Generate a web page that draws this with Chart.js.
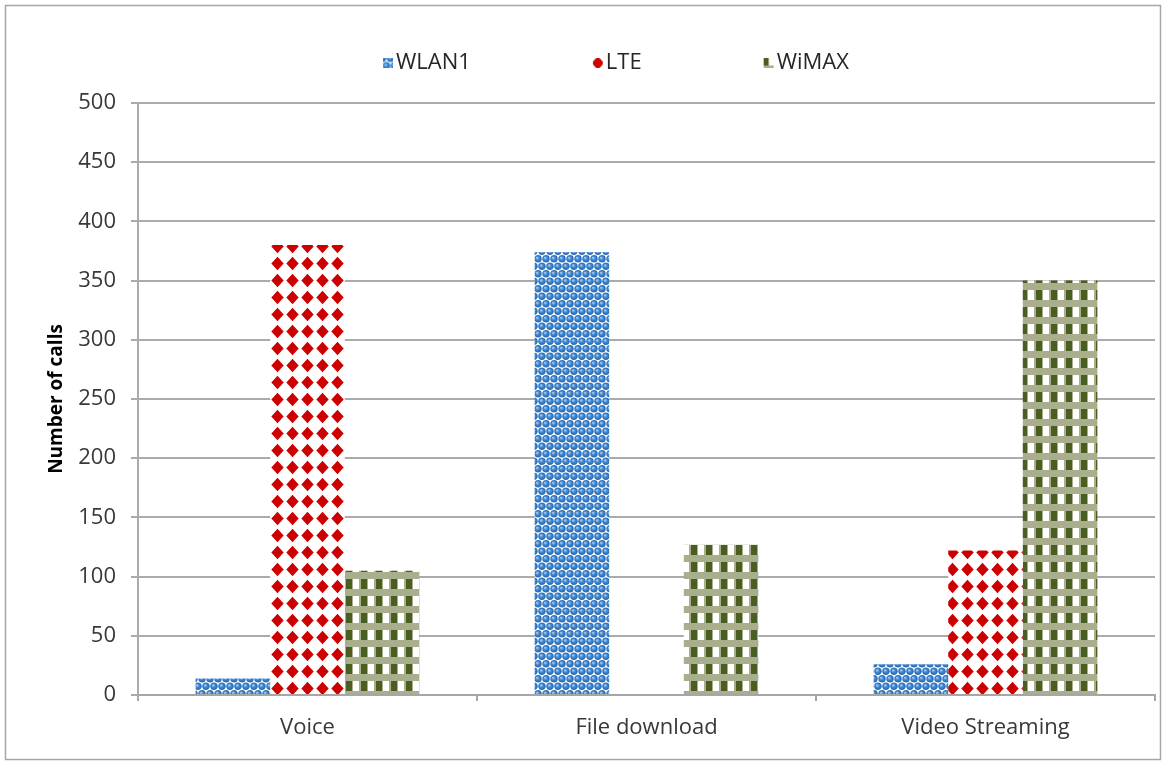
<!DOCTYPE html>
<html>
<head>
<meta charset="utf-8">
<script src="https://cdn.jsdelivr.net/npm/chart.js@4.4.1/dist/chart.umd.min.js"></script>
<style>
  html, body { margin: 0; padding: 0; background: #fff; }
  #wrap { width: 1167px; height: 765px; position: relative; }
</style>
</head>
<body>
<div id="wrap"><canvas id="callsChart" width="1167" height="765"></canvas></div>
<script>
// data
const categories = ['Voice', 'File download', 'Video Streaming'];
const wlan1Calls = [14, 374, 26];
const lteCalls = [380, 0, 122];
const wimaxCalls = [105, 127, 350];
const yTicks = [0, 50, 100, 150, 200, 250, 300, 350, 400, 450, 500];

// --- fill patterns for the bars ---
const makeTile = (w, h, draw) => {
    const c = document.createElement('canvas');
    c.width = w; c.height = h;
    const g = c.getContext('2d');
    g.fillStyle = '#fff';
    g.fillRect(0, 0, w, h);
    draw(g);
    return document.createElement('canvas').getContext('2d').createPattern(c, 'repeat');
};

// blue spheres, hex packed
const dotPattern = makeTile(8, 15, g => {
    const ball = (x, y) => {
        const grd = g.createRadialGradient(x - 1, y - 1, 0.3, x, y, 4);
        grd.addColorStop(0, '#a5d0f5');
        grd.addColorStop(0.4, '#3f8ad6');
        grd.addColorStop(1, '#2260a8');
        g.fillStyle = grd;
        g.beginPath(); g.arc(x, y, 3.7, 0, Math.PI * 2); g.fill();
    };
    [[2, 3.75], [10, 3.75], [6, 11.25], [-2, 11.25], [2, 18.75], [10, 18.75], [6, -3.75], [-2, -3.75]]
        .forEach(p => ball(p[0], p[1]));
});

// red diamonds on white
const diamondPattern = makeTile(15, 17, g => {
    g.fillStyle = '#cc0000';
    g.beginPath();
    g.moveTo(7.5, 1.8); g.lineTo(13.7, 8.5); g.lineTo(7.5, 15.2); g.lineTo(1.3, 8.5);
    g.closePath(); g.fill();
});

// sage grid with dark green and white squares
const checkPattern = makeTile(15, 17, g => {
    g.fillStyle = '#a9ae8c';
    g.fillRect(0, 0, 15, 17);
    g.fillStyle = '#4b5e22';
    g.fillRect(1, 1, 6, 10);
    g.fillStyle = '#fff';
    g.fillRect(8, 1, 6, 10);
});

const seriesPatterns = [dotPattern, diamondPattern, checkPattern];

// outer frame of the chart object
const frame = {
    id: 'frame',
    afterDraw(chart) {
        const ctx = chart.ctx;
        ctx.save();
        ctx.strokeStyle = '#a6a6a6';
        ctx.lineWidth = 1.5;
        ctx.strokeRect(5.5, 5.5, 1155, 754);
        ctx.restore();
    }
};

// legend row with wide gaps between entries
const legendRow = {
    id: 'legendRow',
    afterDraw(chart) {
        const ctx = chart.ctx;
        const y = 63, box = 10, gap = 122;
        ctx.save();
        ctx.font = '22px "Open Sans"';
        ctx.textBaseline = 'middle';
        ctx.fillStyle = '#262626';
        let x = 383;
        chart.data.datasets.forEach((ds, i) => {
            const bx = x, by = y - box / 2;
            ctx.save();
            ctx.translate(bx + box / 2 - 7.5, by + box / 2 - 8.5);
            ctx.fillStyle = ds.backgroundColor;
            ctx.fillRect(7.5 - box / 2, 8.5 - box / 2, box, box);
            ctx.restore();
            const tx = bx + box + 3;
            ctx.fillText(ds.label, tx, y);
            x = tx + ctx.measureText(ds.label).width + gap;
        });
        ctx.restore();
    }
};

const labelFont = { family: 'Open Sans', size: 22 };

new Chart(document.getElementById('callsChart'), {
    type: 'bar',
    data: {
        labels: categories,
        datasets: [
            { label: 'WLAN1', data: wlan1Calls, backgroundColor: seriesPatterns[0] },
            { label: 'LTE', data: lteCalls, backgroundColor: seriesPatterns[1] },
            { label: 'WiMAX', data: wimaxCalls, backgroundColor: seriesPatterns[2] }
        ]
    },
    options: {
        responsive: false,
        animation: false,
        layout: { padding: { left: 0, right: 12, top: 103, bottom: 12 } },
        categoryPercentage: 0.66,
        barPercentage: 1.0,
        plugins: {
            legend: { display: false },
            tooltip: { enabled: false }
        },
        scales: {
            x: {
                grid: { display: true, drawOnChartArea: false, offset: true, tickLength: 6, color: '#a6a6a6', lineWidth: 2 },
                border: { color: '#a6a6a6', width: 2 },
                ticks: { color: '#383838', font: labelFont, padding: 14 },
                afterFit: s => { s.height = 58; }
            },
            y: {
                min: 0, max: 500,
                afterBuildTicks: s => { s.ticks = yTicks.map(v => ({ value: v })); },
                grid: { color: '#ababab', lineWidth: 2, tickLength: 7 },
                border: { color: '#ababab', width: 2 },
                ticks: { color: '#383838', font: labelFont, padding: 15 },
                title: {
                    display: true, text: 'Number of calls', color: '#000',
                    font: { family: 'Open Sans', size: 19, weight: 'bold' },
                    padding: { top: 45, bottom: 0 }
                },
                afterFit: s => { s.width = 138; }
            }
        }
    },
    plugins: [frame, legendRow]
});
</script>
</body>
</html>
